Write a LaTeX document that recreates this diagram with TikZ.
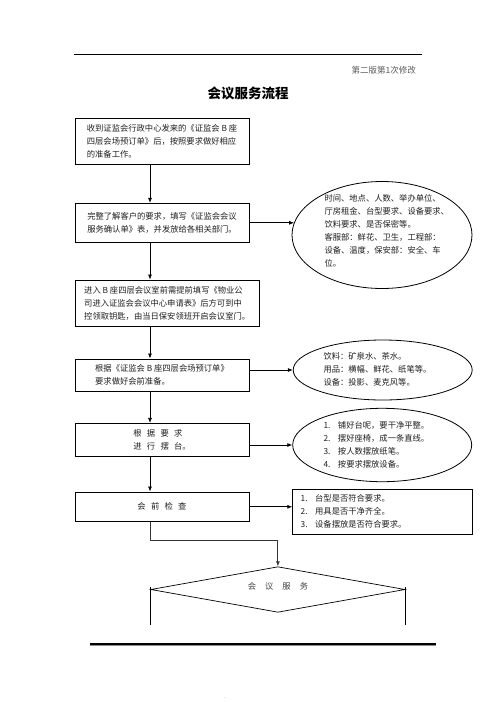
\documentclass[tikz,border=0pt]{standalone}
\usepackage{fontspec}
\setmainfont{Noto Sans CJK SC}
\usetikzlibrary{arrows.meta,shapes.geometric}
\newcommand\bodyfont{\fontsize{8.3}{13}\selectfont}
\newcommand\gp[1][5.3pt]{\hspace{#1}}
\newcommand\itemno[1]{\makebox[14.5pt][l]{#1}}
\begin{document}
\begin{tikzpicture}[x=1pt,y=-1pt,
  box/.style={draw, line width=0.9pt, inner xsep=0pt, inner ysep=0pt, align=left, font=\bodyfont, text=black!88},
  ell/.style={draw, ellipse, line width=0.8pt, inner sep=0pt},
  txt/.style={align=left, inner sep=0pt, font=\bodyfont, text=black!88, anchor=west},
  arr/.style={line width=0.7pt, -{Latex[length=5pt,width=4pt]}},
  plain/.style={line width=0.7pt}]
\useasboundingbox (0,0) rectangle (496,702);
% header
\coordinate (tl) at (74,54.3);
\coordinate (tr) at (421.7,54.3);
\draw[line width=1.1pt] (tl) -- (tr);
\node[anchor=east, inner sep=0pt, font=\fontsize{8.5}{10}\selectfont, text=black!65] (ver) at (416,70) {第二版第1次修改};
\node[inner sep=0pt, font=\fontsize{13.5}{16}\selectfont\bfseries] (title) at (248,93) {会议服务流程};
% boxes
\node[box, minimum width=174, minimum height=46] (b1) at (162,141)
  {收到证监会行政中心发来的《证监会 B 座\\四层会场预订单》后，按照要求做好相应\\的准备工作。};
\node[box, minimum width=174, minimum height=39] (b2) at (162,222.8)
  {完整了解客户的要求，填写《证监会会议\\服务确认单》表，并发放给各相关部门。};
\node[box, minimum width=184.3, minimum height=46] (b3) at (167.2,303)
  {进入 B 座四层会议室前需提前填写《物业公\\司进入证监会会议中心申请表》后方可到中\\控领取钥匙，由当日保安领班开启会议室门。};
\node[box, minimum width=174, minimum height=32.7] (b4) at (162,375.3)
  {根据《证监会 B 座四层会场预订单》\\要求做好会前准备。};
\node[box, minimum width=174, minimum height=32.7] (b5) at (162,439.7)
  {根\gp 据\gp 要\gp 求\\进\gp 行\gp 摆\gp 台。};
\node[box, minimum width=174, minimum height=29.7, align=center] (b6) at (162,506.8)
  {会\gp 前\gp 检\gp 查};
\node[box, minimum width=180, minimum height=45, text width=164, inner xsep=8pt] (b7) at (382.7,511.8)
  {\itemno{1.}台型是否符合要求。\\\itemno{2.}用具是否干净齐全。\\\itemno{3.}设备摆放是否符合要求。};
% ellipses
\node[ell, minimum width=180, minimum height=107] (e1) at (382,235) {};
\node[txt] (e1t) at (324.3,230.5)
  {时间、地点、人数、举办单位、\\厅房租金、台型要求、设备要求、\\饮料要求、是否保密等。\\客服部：鲜花、卫生，工程部：\\设备、温度，保安部：安全、车\\位。};
\node[ell, minimum width=179, minimum height=60] (e2) at (382.7,370) {};
\node[txt] (e2t) at (323.3,369)
  {饮料：矿泉水、茶水。\\用品：横幅、鲜花、纸笔等。\\设备：投影、麦克风等。};
\node[ell, minimum width=179, minimum height=73.4] (e3) at (382.2,445) {};
\node[txt] (e3t) at (323.3,444.6)
  {\itemno{1.}铺好台呢，要干净平整。\\\itemno{2.}摆好座椅，成一条直线。\\\itemno{3.}按人数摆放纸笔。\\\itemno{4.}按要求摆放设备。};
% diamond
\node[draw, diamond, minimum width=254.3, minimum height=45.6, inner sep=0pt, line width=0.7pt] (d) at (277.9,589.5) {};
\node[inner sep=0pt, font=\bodyfont, text=black!75] (dt) at (278,586) {会\gp[9pt]议\gp[9pt]服\gp[9pt]务};
% connectors
\coordinate (cx) at (150,0);
\coordinate (bend) at (0,540.7);
\draw[arr] (b1.south -| cx) -- (b2.north -| cx);
\draw[arr] (b2.south -| cx) -- (b3.north -| cx);
\draw[arr] (b3.south -| cx) -- (b4.north -| cx);
\draw[arr] (b4.south -| cx) -- (b5.north -| cx);
\draw[arr] (b5.south -| cx) -- (b6.north -| cx);
\draw[arr] (b2.east) -- ([xshift=2.5pt]e1.west |- b2.east);
\draw[arr] (b4.east |- e2.west) -- (e2.west);
\draw[arr] (b5.east |- e3.west) -- (e3.west);
\draw[arr] (b6.east) -- (b7.west |- b6.east);
\draw[arr, line width=0.9pt, draw=black!80] (b6.south -| cx) |- (d.north |- bend) -- (d.north);
% side lines below diamond
\coordinate (dl) at (150.7,625);
\coordinate (dr) at (405,625);
\draw[plain] ([yshift=2.5pt]d.west) -- (d.west |- dl);
\draw[plain] ([yshift=2.5pt]d.east) -- (d.east |- dr);
% footer rules
\coordinate (bl) at (90,643.8);
\coordinate (br) at (435.7,643.8);
\draw[line width=1.4pt] (bl) -- (br);
\draw[line width=0.6pt, draw=black!45] ([yshift=-1.8pt]bl) -- ([yshift=-1.8pt]br);
\node[inner sep=0pt, font=\fontsize{5}{5}\selectfont, text=black!60] (dot) at (225,698) {.};
\end{tikzpicture}
\end{document}
